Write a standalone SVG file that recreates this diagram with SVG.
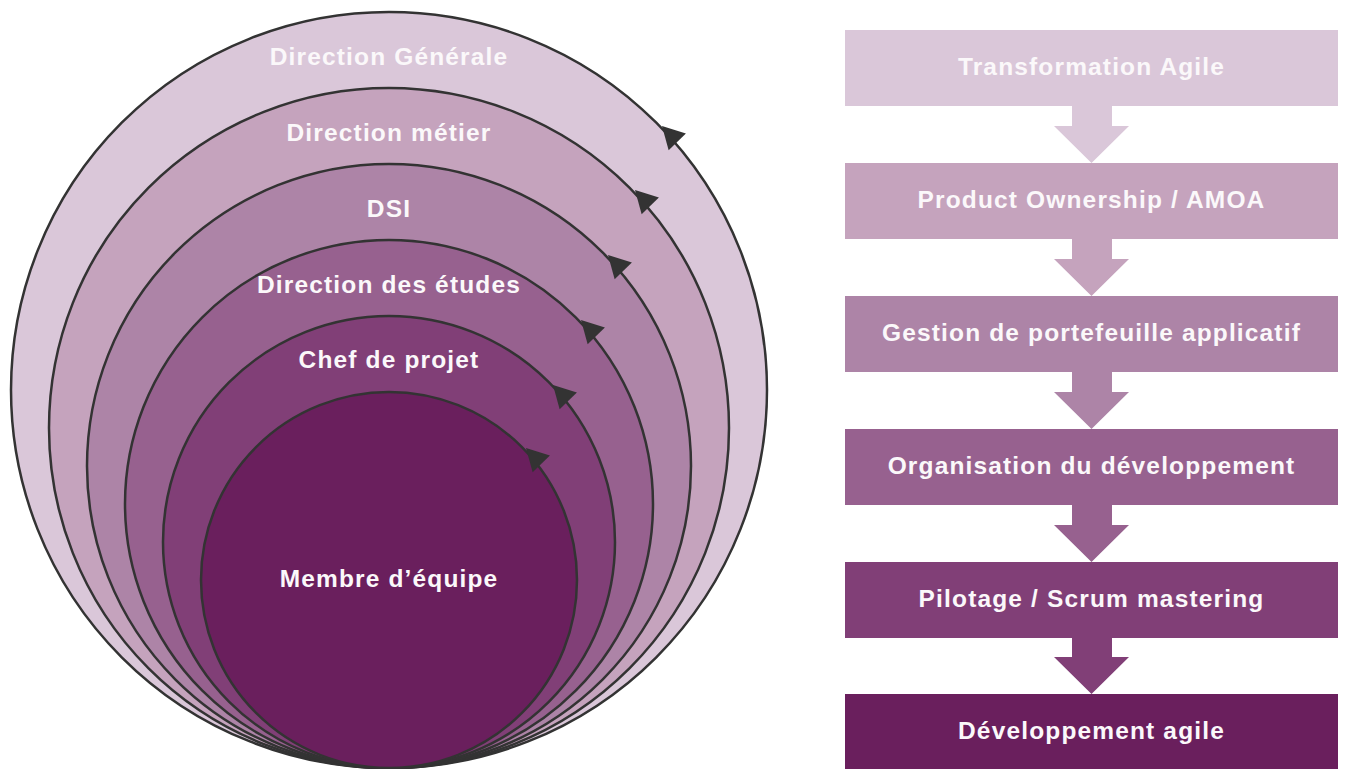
<svg xmlns="http://www.w3.org/2000/svg" width="1348" height="769" viewBox="0 0 1348 769">
  <style>
    .ring { stroke: #333333; stroke-width: 2.5; }
    .lbl { font-family: "Liberation Sans", Arial, Helvetica, sans-serif; font-weight: bold; font-size: 24.5px; letter-spacing: 1.15px; fill: #fbf8fa; text-anchor: middle; }
    .head { fill: #333333; }
    .c1 { fill: #dac7d9; }
    .c2 { fill: #c5a3bd; }
    .c3 { fill: #ad84a7; }
    .c4 { fill: #97618f; }
    .c5 { fill: #813f77; }
    .c6 { fill: #6a1f5d; }
  </style>
  <defs>
    <polygon id="ah" points="0,0 -22,-12 -22,12"/>
  </defs>
  <rect width="1348" height="769" fill="#ffffff"/>

  <!-- Concentric (tangent) circles -->
  <g id="circle-direction-generale">
    <circle class="ring c1" cx="389" cy="390" r="378"/>
    <text class="lbl" x="389" y="65">Direction Générale</text>
  </g>
  <g id="circle-direction-metier">
    <circle class="ring c2" cx="389" cy="428" r="340"/>
    <text class="lbl" x="389" y="141">Direction métier</text>
  </g>
  <g id="circle-dsi">
    <circle class="ring c3" cx="389" cy="466" r="302"/>
    <text class="lbl" x="389" y="217">DSI</text>
  </g>
  <g id="circle-direction-etudes">
    <circle class="ring c4" cx="389" cy="504" r="264"/>
    <text class="lbl" x="389" y="293">Direction des études</text>
  </g>
  <g id="circle-chef-projet">
    <circle class="ring c5" cx="389" cy="542" r="226"/>
    <text class="lbl" x="389" y="368">Chef de projet</text>
  </g>
  <g id="circle-membre-equipe">
    <circle class="ring c6" cx="389" cy="580" r="188"/>
    <text class="lbl" x="389" y="587">Membre d’équipe</text>
  </g>

  <!-- Arrowheads on the circles -->
  <g id="circle-arrowheads" class="head">
    <use href="#ah" transform="translate(662,126) rotate(-134)"/>
    <use href="#ah" transform="translate(635,190) rotate(-134)"/>
    <use href="#ah" transform="translate(608,255) rotate(-134)"/>
    <use href="#ah" transform="translate(581,320) rotate(-134)"/>
    <use href="#ah" transform="translate(553,385) rotate(-134)"/>
    <use href="#ah" transform="translate(526,448) rotate(-134)"/>
  </g>

  <!-- Right-hand flow boxes -->
  <g id="box-transformation-agile">
    <rect class="c1" x="845" y="30" width="493" height="76"/>
    <text class="lbl" x="1091.5" y="75">Transformation Agile</text>
  </g>
  <g id="box-product-ownership">
    <rect class="c2" x="845" y="163" width="493" height="76"/>
    <text class="lbl" x="1091.5" y="208">Product Ownership / AMOA</text>
  </g>
  <g id="box-gestion-portefeuille">
    <rect class="c3" x="845" y="296" width="493" height="76"/>
    <text class="lbl" x="1091.5" y="341">Gestion de portefeuille applicatif</text>
  </g>
  <g id="box-organisation-developpement">
    <rect class="c4" x="845" y="429" width="493" height="76"/>
    <text class="lbl" x="1091.5" y="474">Organisation du développement</text>
  </g>
  <g id="box-pilotage">
    <rect class="c5" x="845" y="562" width="493" height="76"/>
    <text class="lbl" x="1091.5" y="607">Pilotage / Scrum mastering</text>
  </g>
  <g id="box-developpement-agile">
    <rect class="c6" x="845" y="694" width="493" height="76"/>
    <text class="lbl" x="1091.5" y="739">Développement agile</text>
  </g>

  <!-- Block-arrow connectors -->
  <g id="connectors">
    <polygon class="c1" points="1072,106 1112,106 1112,126 1129,126 1091.5,163 1054,126 1072,126"/>
    <polygon class="c2" points="1072,239 1112,239 1112,259 1129,259 1091.5,296 1054,259 1072,259"/>
    <polygon class="c3" points="1072,372 1112,372 1112,392 1129,392 1091.5,429 1054,392 1072,392"/>
    <polygon class="c4" points="1072,505 1112,505 1112,525 1129,525 1091.5,562 1054,525 1072,525"/>
    <polygon class="c5" points="1072,638 1112,638 1112,657 1129,657 1091.5,694 1054,657 1072,657"/>
  </g>
</svg>
